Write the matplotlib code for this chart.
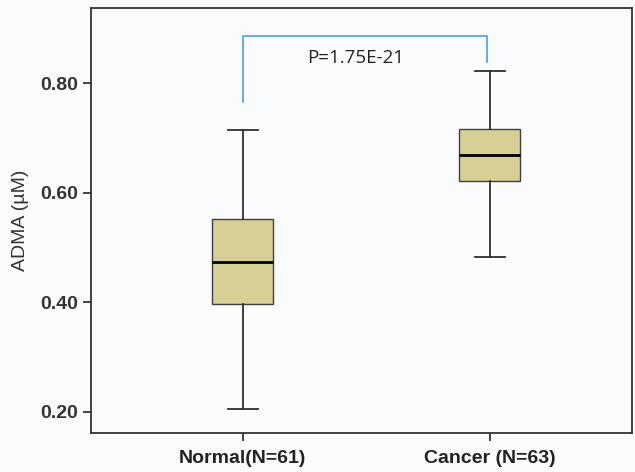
import matplotlib
matplotlib.use("Agg")
import matplotlib.pyplot as plt

# box statistics
groups = ["Normal(N=61)", "Cancer (N=63)"]
whislo = [0.205, 0.482]
q1 = [0.398, 0.622]
med = [0.474, 0.669]
q3 = [0.553, 0.716]
whishi = [0.714, 0.822]
ytick_vals = [0.20, 0.40, 0.60, 0.80]
p_text = "P=1.75E-21"
bracket_y = [0.765, 0.886, 0.838]  # left foot, top, right foot

plt.rcParams['font.family'] = ['Liberation Sans', 'DejaVu Sans']

fig = plt.figure(figsize=(6.35, 4.72), dpi=100)
fig.patch.set_facecolor('#fafbfd')
ax = fig.add_axes([0.1433, 0.0826, 0.852, 0.9])
ax.set_facecolor('#fafbfd')

stats = []
for i in range(len(groups)):
    stats.append(dict(label=groups[i], whislo=whislo[i], q1=q1[i], med=med[i],
                      q3=q3[i], whishi=whishi[i], fliers=[]))

ax.bxp(stats, positions=[1, 2], widths=0.247, patch_artist=True, showfliers=False,
       capwidths=0.12,
       boxprops=dict(facecolor='#d6cf96', edgecolor='#404040', linewidth=1.0),
       medianprops=dict(color='black', linewidth=2.0),
       whiskerprops=dict(color='#303030', linewidth=1.3),
       capprops=dict(color='#303030', linewidth=1.3))

# significance bracket
ax.plot([1, 1, 1.99, 1.99], [bracket_y[0], bracket_y[1], bracket_y[1], bracket_y[2]],
        color='#4a9fe0', linewidth=1.2)
ax.text(1.455, 0.846, p_text, ha='center', va='center', fontsize=13.5,
        family=['Open Sans', 'DejaVu Sans'], color='#222222')

ax.set_xlim(0.385, 2.575)
ax.set_ylim(0.1616, 0.937)
ax.set_yticks(ytick_vals)
ax.set_yticklabels([f"{v:.2f}" for v in ytick_vals], fontsize=14, fontweight='bold', color='#333333')
ax.set_xticks([1, 2])
ax.set_xticklabels(groups, fontsize=14, fontweight='bold', color='#222222')
ax.set_ylabel("ADMA (µM)", fontsize=14, color='#333333', labelpad=8)

for s in ax.spines.values():
    s.set_color('#333333')
    s.set_linewidth(1.3)
ax.tick_params(axis='both', length=6, width=1.3, color='#333333')
ax.tick_params(axis='x', pad=6)

fig.savefig("out.png", dpi=100, facecolor=fig.get_facecolor())
